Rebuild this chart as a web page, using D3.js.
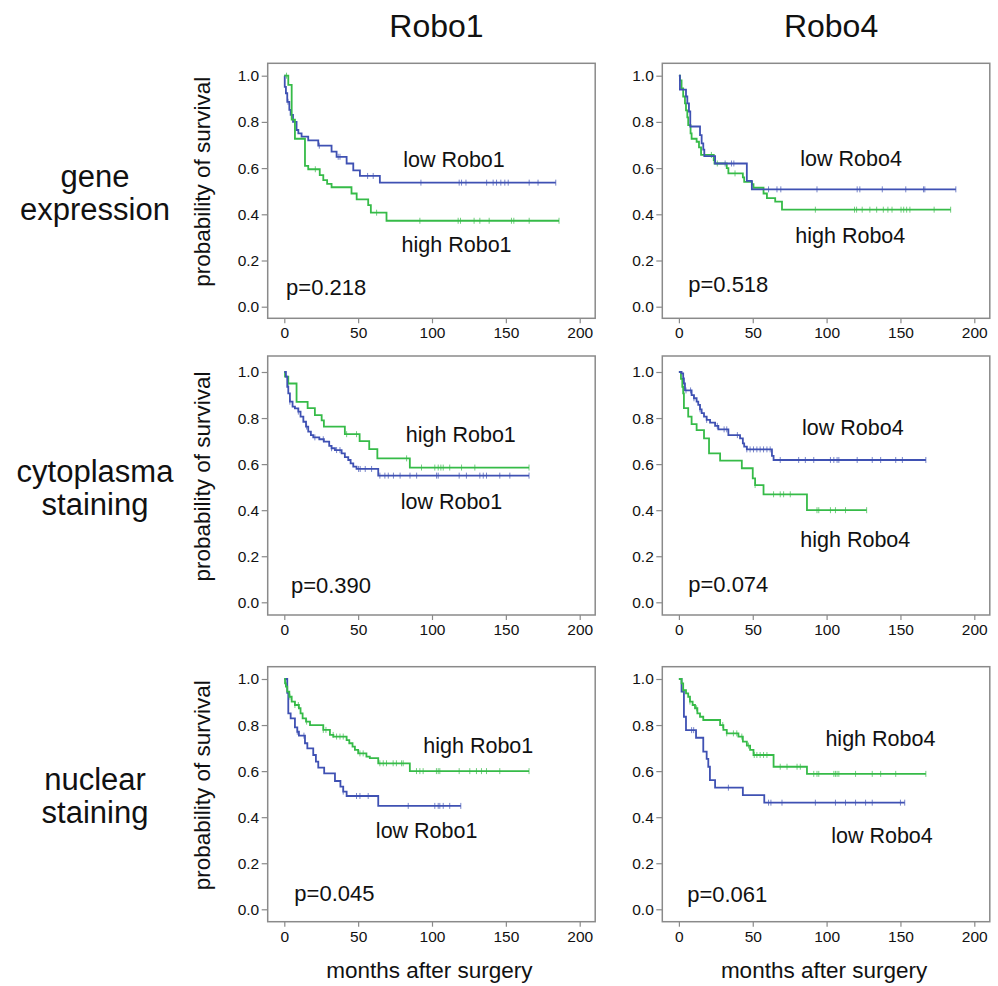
<!DOCTYPE html>
<html>
<head>
<meta charset="utf-8">
<script src="https://cdn.jsdelivr.net/npm/d3@7"></script>
<style>
  body { margin: 0; background: #fff; }
  text { font-family: "Liberation Sans", Arial, sans-serif; fill: #111; }
</style>
</head>
<body>
<svg id="chart" width="998" height="986"></svg>
<script>
const columns = ["Robo1", "Robo4"];
const rowLabels = [["gene", "expression"], ["cytoplasma", "staining"], ["nuclear", "staining"]];
const pValues = [["p=0.218", "p=0.518"], ["p=0.390", "p=0.074"], ["p=0.045", "p=0.061"]];
const xTicks = [0, 50, 100, 150, 200];
const yTicks = [0, 0.2, 0.4, 0.6, 0.8, 1.0];

// Kaplan-Meier steps [months, survival], censored months, last follow-up
const geneLow1Steps = [[0,1],[0.3,0.952],[1.1,0.924],[2.0,0.887],[3.4,0.852],[4.3,0.83],[5.9,0.80],[8.3,0.765],[9.5,0.75],[11.7,0.736],[16.2,0.72],[23,0.697],[32,0.671],[35.4,0.649],[42.2,0.62],[46.7,0.59],[51.2,0.566],[64.7,0.537]];
const geneLow1Censored = [2.5,23.7,36.5,37.7,56.4,60.2,92.5,118.4,120,123,137,141.4,143.7,146.6,149.3,151.6,165.8,171.8,183.8];
const geneHigh1Steps = [[0,1],[2.7,0.96],[5,0.81],[7.2,0.727],[14,0.61],[16.2,0.595],[24,0.57],[26.4,0.548],[29,0.532],[32,0.517],[45.5,0.49],[49,0.465],[56.8,0.44],[58.6,0.407],[69.2,0.372]];
const geneHigh1Censored = [1.5,21,62.5,91.8,117.7,119.3,128.5,132.4,138.7,153.8,155.4,165.8,186];

const geneLow4Steps = [[0,1],[0.7,0.94],[4.8,0.91],[5.7,0.88],[6.8,0.845],[7.7,0.78],[14.3,0.743],[15.4,0.707],[16.5,0.68],[17.2,0.652],[24.5,0.62],[46,0.545],[49.4,0.508]];
const geneLow4Censored = [31.3,35.6,37.2,60.7,66.4,69,93.5,120.7,122.5,137.7,153.6,165.6,166.5,187.5];
const geneHigh4Steps = [[0,1],[0.7,0.98],[1.8,0.945],[2.9,0.91],[4.1,0.88],[4.8,0.85],[5.7,0.82],[6.3,0.786],[7.9,0.75],[8.6,0.727],[12,0.714],[13.6,0.69],[15,0.657],[23.6,0.635],[24.1,0.62],[32.4,0.6],[33.5,0.577],[43.3,0.56],[44.2,0.54],[49.4,0.53],[50.5,0.515],[57.3,0.49],[59.6,0.47],[65.2,0.455],[69.8,0.42]];
const geneHigh4Censored = [22,26,38,92.4,118.9,120.3,124.1,129.3,133.9,138.4,141.5,144.3,150.4,152.2,154.2,156.4,172.8,184];

const cytoLow1Steps = [[0,1],[1.1,0.98],[2.0,0.936],[2.7,0.907],[3.8,0.871],[5.6,0.85],[7.2,0.842],[9.5,0.828],[11,0.806],[12.9,0.784],[14.7,0.763],[16.2,0.741],[18,0.726],[19.6,0.716],[23.7,0.708],[26.8,0.698],[30.4,0.679],[32,0.669],[34.3,0.661],[38.8,0.647],[41,0.63],[43.3,0.618],[44.9,0.603],[46.7,0.589],[48.9,0.579],[63.6,0.55]];
const cytoLow1Censored = [3.8,9.5,15.1,20.7,26.4,32,35.4,37.7,50.3,51.4,54.8,59.1,64.7,68.1,70.4,73.9,78.4,85.1,89.6,103.1,104.2,118.4,123.3,132.4,134.7,136.9,145.9,152.7,165.7];
const cytoHigh1Steps = [[0,1],[0.5,0.98],[2.7,0.95],[8.3,0.87],[15.8,0.843],[20.7,0.813],[25.3,0.79],[26.8,0.763],[41,0.73],[51,0.7],[57.5,0.665],[63,0.625],[85,0.585]];
const cytoHigh1Censored = [2.7,42.2,48.9,82.8,92.9,101.9,104.2,106,107.6,112,120,129,165.7];

const cytoLow4Steps = [[0,1],[1.8,0.994],[2.9,0.972],[3.4,0.95],[4.1,0.92],[8.6,0.9],[10.2,0.886],[12,0.871],[13.1,0.857],[14.3,0.838],[15.4,0.821],[17,0.806],[18.8,0.792],[21.1,0.78],[24.5,0.766],[26.7,0.751],[33.5,0.726],[41.4,0.712],[43.3,0.69],[44.2,0.676],[46,0.664],[63,0.636],[64.1,0.618]];
const cytoLow4Censored = [4.8,7.9,10.2,14.3,18.8,26,30.6,32.4,39.6,46,48.2,50.5,52.8,55,57.3,59.6,61.8,68.6,81.1,85.6,91.3,102.6,104.9,107.1,108.3,120.7,130.9,136.6,146.8,151.3,167.2];
const cytoHigh4Steps = [[0,1],[1.4,0.97],[2.3,0.936],[2.9,0.907],[3.4,0.843],[6.3,0.806],[8.6,0.774],[12,0.748],[17,0.712],[20.4,0.647],[27.9,0.615],[42.6,0.582],[50,0.538],[51.6,0.509],[57.3,0.469],[86.7,0.4]];
const cytoHigh4Censored = [51.6,64.1,68.6,70.9,75.4,93.5,94.7,102.6,106,112.8,127.1];

const nucLow1Steps = [[0,1],[2,0.94],[2.7,0.851],[4.3,0.829],[7.2,0.79],[8.8,0.771],[9.9,0.754],[14,0.721],[15.6,0.699],[19.6,0.67],[21.4,0.641],[23,0.615],[27,0.59],[34.3,0.557],[38,0.533],[39.9,0.511],[42.2,0.492],[63.6,0.449]];
const nucLow1Censored = [8.8,13.3,39.9,48.9,51.2,56.8,83.9,101.9,104.2,105.3,107.6,112,119.5];
const nucHigh1Steps = [[0,1],[0.5,0.981],[1.1,0.967],[2,0.945],[3.4,0.923],[5,0.902],[7.2,0.887],[9.9,0.873],[11,0.851],[12.4,0.829],[14.7,0.815],[17.4,0.8],[26.4,0.779],[30.9,0.757],[33.2,0.75],[42.2,0.735],[44,0.721],[46.2,0.706],[47.8,0.692],[50,0.677],[55.6,0.663],[57.9,0.656],[63.6,0.634],[85,0.6]];
const nucHigh1Censored = [3.8,7.2,9.5,15.1,26.4,28.2,33.1,35.4,37.7,39.9,51.2,53.4,64.7,67,69.2,73.7,75.9,79.4,80.5,89.5,91.8,94,103,104.2,105.3,118.4,125.6,130.1,133.5,136.9,145.9,165.7];

const nucLow4Steps = [[0,1],[1.8,0.945],[3.4,0.836],[4.8,0.778],[11.6,0.745],[16.5,0.685],[18.8,0.653],[19.9,0.619],[21,0.561],[24.5,0.528],[43.3,0.496],[57.8,0.463]];
const nucLow4Censored = [8.6,10,33.5,60.7,62.3,69.8,92.4,106,112.8,119.6,126.4,130.9,150,152.9];
const nucHigh4Steps = [[0,1],[1.8,0.981],[2.9,0.952],[4.8,0.938],[6.3,0.923],[7.5,0.902],[9.3,0.887],[10.9,0.873],[12.5,0.851],[14.3,0.836],[16.5,0.822],[27.9,0.8],[30.1,0.779],[32.4,0.764],[40.3,0.75],[43.3,0.728],[46,0.711],[48.2,0.692],[50.5,0.67],[64.1,0.619],[86.7,0.588]];
const nucHigh4Censored = [2.9,7.5,12,29.7,32.4,36.9,39.2,42.6,47.1,51,52.8,55,57.3,59.6,68.6,73.2,80,82.2,91.3,93.5,94.7,104.9,106,107.1,108.3,119.6,130.9,136.6,146.8,167.2];

const panels = [
  {row: 0, col: 0, curves: [
    {group: "low", steps: geneLow1Steps, censored: geneLow1Censored, end: 183.8},
    {group: "high", steps: geneHigh1Steps, censored: geneHigh1Censored, end: 186}]},
  {row: 0, col: 1, curves: [
    {group: "high", steps: geneHigh4Steps, censored: geneHigh4Censored, end: 184},
    {group: "low", steps: geneLow4Steps, censored: geneLow4Censored, end: 187.5}]},
  {row: 1, col: 0, curves: [
    {group: "high", steps: cytoHigh1Steps, censored: cytoHigh1Censored, end: 165.7},
    {group: "low", steps: cytoLow1Steps, censored: cytoLow1Censored, end: 165.7}]},
  {row: 1, col: 1, curves: [
    {group: "high", steps: cytoHigh4Steps, censored: cytoHigh4Censored, end: 127.1},
    {group: "low", steps: cytoLow4Steps, censored: cytoLow4Censored, end: 167.2}]},
  {row: 2, col: 0, curves: [
    {group: "low", steps: nucLow1Steps, censored: nucLow1Censored, end: 119.5},
    {group: "high", steps: nucHigh1Steps, censored: nucHigh1Censored, end: 165.7}]},
  {row: 2, col: 1, curves: [
    {group: "low", steps: nucLow4Steps, censored: nucLow4Censored, end: 152.9},
    {group: "high", steps: nucHigh4Steps, censored: nucHigh4Censored, end: 167.2}]}
];

// where the in-plot texts sit, in data units [months, survival]
const labelSpots = [
  [{low: [80.5, 0.606], high: [79.4, 0.238], p: [1.2, 0.05]},  {low: [82.2, 0.609], high: [78.8, 0.274], p: [6.3, 0.065]}],
  [{low: [78.8, 0.404], high: [82.3, 0.697], p: [4.5, 0.04]},  {low: [83.4, 0.726], high: [82.2, 0.241], p: [6.3, 0.046]}],
  [{low: [62, 0.309],   high: [94.1, 0.678], p: [6.8, 0.036]}, {low: [103.1, 0.287], high: [99.2, 0.707], p: [5.6, 0.033]}]
];

const colors = {low: "#3f51b3", high: "#36bb48"};

const colLeft = [267.7, 662.3];
const boxWidth = 327.5;
const boxTop = [63.3, 356, 666.7];
const boxBottom = [318.3, 615, 921.7];
const yOne = [75.7, 372, 679];
const yZero = [306.7, 602.3, 909.3];

const svg = d3.select("#chart");

function survivalAt(steps, t) {
    let s = steps[0][1];
    steps.forEach(d => { if (d[0] <= t) s = d[1]; });
    return s;
}

panels.forEach(p => {
    const left = colLeft[p.col];
    const x = d3.scaleLinear().domain([0, 200]).range([left + 16.6, left + 312]);
    const y = d3.scaleLinear().domain([0, 1]).range([yZero[p.row], yOne[p.row]]);
    const g = svg.append("g");

    const yAxis = g.append("g")
        .attr("transform", `translate(${left},0)`)
        .call(d3.axisLeft(y).tickValues(yTicks).tickFormat(d3.format(".1f")).tickSize(6).tickPadding(2.5));
    const xAxis = g.append("g")
        .attr("transform", `translate(0,${boxBottom[p.row]})`)
        .call(d3.axisBottom(x).tickValues(xTicks).tickSize(5).tickPadding(4));
    [xAxis, yAxis].forEach(a => {
        a.select(".domain").remove();
        a.selectAll(".tick line").attr("stroke", "#8a8a8a").attr("stroke-width", 1.2);
        a.selectAll(".tick text").attr("font-size", 15.5).attr("fill", "#1a1a1a")
            .attr("font-family", "Liberation Sans, Arial, sans-serif");
    });

    g.append("rect")
        .attr("x", left)
        .attr("y", boxTop[p.row])
        .attr("width", boxWidth)
        .attr("height", boxBottom[p.row] - boxTop[p.row])
        .attr("fill", "none")
        .attr("stroke", "#8a8a8a")
        .attr("stroke-width", 1.5);

    const line = d3.line().curve(d3.curveStepAfter).x(d => x(d[0])).y(d => y(d[1]));

    p.curves.forEach(c => {
        const last = c.steps[c.steps.length - 1][1];
        g.append("path")
            .attr("d", line(c.steps.concat([[c.end, last]])))
            .attr("fill", "none")
            .attr("stroke", colors[c.group])
            .attr("stroke-width", 1.8);
        g.append("g").selectAll("line")
            .data(c.censored)
            .enter()
            .append("line")
                .attr("x1", d => x(d)).attr("x2", d => x(d))
                .attr("y1", d => y(survivalAt(c.steps, d)) - 3)
                .attr("y2", d => y(survivalAt(c.steps, d)) + 3)
                .attr("stroke", colors[c.group])
                .attr("stroke-opacity", 0.7)
                .attr("stroke-width", 1);
    });

    const spots = labelSpots[p.row][p.col];
    ["low", "high"].forEach(k => {
        g.append("text")
            .attr("x", x(spots[k][0]))
            .attr("y", y(spots[k][1]))
            .attr("font-size", 21.5)
            .text(k + " " + columns[p.col]);
    });
    g.append("text")
        .attr("x", x(spots.p[0]))
        .attr("y", y(spots.p[1]))
        .attr("font-size", 22)
        .text(pValues[p.row][p.col]);

    if (p.col === 0) {
        const mid = (boxTop[p.row] + boxBottom[p.row]) / 2;
        g.append("text")
            .attr("transform", `translate(210,${mid - 9}) rotate(-90)`)
            .attr("text-anchor", "middle")
            .attr("font-size", 22.5)
            .text("probability of survival");
        rowLabels[p.row].forEach((t, i) => {
            g.append("text")
                .attr("x", 95)
                .attr("y", mid - 4 + i * 33)
                .attr("text-anchor", "middle")
                .attr("font-size", 31)
                .text(t);
        });
    }
});

columns.forEach((c, i) => {
    const center = colLeft[i] + boxWidth / 2;
    svg.append("text")
        .attr("x", center + 5)
        .attr("y", 37.3)
        .attr("text-anchor", "middle")
        .attr("font-size", 32)
        .text(c);
    svg.append("text")
        .attr("x", center - 2)
        .attr("y", 978)
        .attr("text-anchor", "middle")
        .attr("font-size", 22.5)
        .text("months after surgery");
});
</script>
</body>
</html>
